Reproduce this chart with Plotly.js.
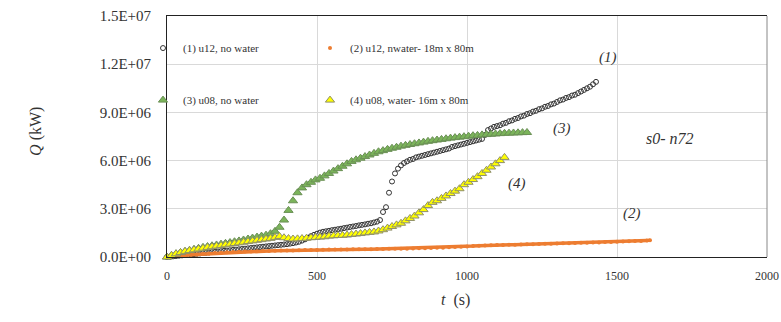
<!DOCTYPE html>
<html>
<head>
<meta charset="utf-8">
<script src="https://cdn.plot.ly/plotly-3.0.1.min.js"></script>
<style>
html,body{margin:0;padding:0;background:#fff;}
#chart{width:781px;height:322px;}
#chart text{font-family:'Liberation Serif' !important;}
</style>
</head>
<body>
<div id="chart"></div>
<script>
// Heat release rate Q in units of 1E+06 kW, time t in s
const seriesNames = ['(1) u12, no water', '(2) u12, nwater- 18m x 80m', '(3) u08, no water', '(4) u08, water- 16m x 80m'];

const t1 = [0,10,20,30,40,50,60,70,80,90,100,110,120,130,140,150,160,170,180,190,200,210,220,230,240,250,260,270,280,290,300,310,320,330,340,350,360,370,380,390,400,410,420,430,440,450,460,470,480,490,500,510,520,530,540,550,560,570,580,590,600,610,620,630,640,650,660,670,680,690,700,710,720,730,740,750,760,770,780,790,800,810,820,830,840,850,860,870,880,890,900,910,920,930,940,950,960,970,980,990,1000,1010,1020,1030,1040,1050,1060,1070,1080,1090,1100,1110,1120,1130,1140,1150,1160,1170,1180,1190,1200,1210,1220,1230,1240,1250,1260,1270,1280,1290,1300,1310,1320,1330,1340,1350,1360,1370,1380,1390,1400,1410,1420,1430];
const q1 = [0,0.02,0.04,0.06,0.08,0.1,0.12,0.14,0.16,0.18,0.2,0.22,0.24,0.26,0.28,0.3,0.32,0.34,0.36,0.38,0.4,0.42,0.44,0.46,0.48,0.5,0.52,0.54,0.56,0.58,0.6,0.62,0.64,0.66,0.68,0.7,0.72,0.74,0.76,0.78,0.8,0.83,0.86,0.9,0.95,1.02,1.1,1.2,1.3,1.38,1.45,1.52,1.57,1.6,1.63,1.67,1.7,1.73,1.76,1.8,1.83,1.87,1.9,1.93,1.97,2.0,2.03,2.07,2.1,2.15,2.2,2.3,2.8,3.1,4.0,4.7,5.2,5.5,5.7,5.85,5.95,6.05,6.1,6.2,6.25,6.3,6.35,6.4,6.45,6.5,6.55,6.6,6.65,6.7,6.75,6.85,6.9,6.95,7.0,7.05,7.1,7.15,7.2,7.25,7.3,7.35,7.6,7.9,8.0,8.1,8.15,8.2,8.3,8.35,8.45,8.5,8.6,8.65,8.75,8.8,8.9,8.95,9.05,9.1,9.2,9.25,9.35,9.4,9.5,9.55,9.65,9.75,9.8,9.9,9.95,10.05,10.1,10.2,10.3,10.4,10.5,10.6,10.75,10.9];

const t2 = [0,20,40,60,80,100,120,140,160,180,200,220,240,260,280,300,320,340,360,380,400,420,440,460,480,500,520,540,560,580,600,620,640,660,680,700,720,740,760,780,800,820,840,860,880,900,920,940,960,980,1000,1020,1040,1060,1080,1100,1120,1140,1160,1180,1200,1220,1240,1260,1280,1300,1320,1340,1360,1380,1400,1420,1440,1460,1480,1500,1520,1540,1560,1580,1600,1610];
const q2 = [0,0.05,0.08,0.11,0.14,0.16,0.19,0.22,0.25,0.27,0.29,0.31,0.32,0.34,0.35,0.36,0.37,0.38,0.39,0.4,0.41,0.41,0.42,0.43,0.44,0.44,0.45,0.46,0.46,0.47,0.47,0.48,0.48,0.49,0.49,0.5,0.5,0.51,0.51,0.52,0.52,0.53,0.54,0.55,0.56,0.57,0.58,0.6,0.62,0.64,0.66,0.68,0.7,0.72,0.73,0.74,0.75,0.76,0.77,0.78,0.79,0.8,0.81,0.82,0.83,0.84,0.85,0.86,0.87,0.88,0.89,0.9,0.91,0.93,0.94,0.95,0.97,0.98,0.99,1.0,1.02,1.05];

const t3 = [0,15,30,45,60,75,90,105,120,135,150,165,180,195,210,225,240,255,270,285,300,315,330,345,360,375,390,405,420,435,450,465,480,495,510,525,540,555,570,585,600,615,630,645,660,675,690,705,720,735,750,765,780,795,810,825,840,855,870,885,900,915,930,945,960,975,990,1005,1020,1035,1050,1065,1080,1095,1110,1125,1140,1155,1170,1185,1200];
const q3 = [0,0.1,0.2,0.28,0.35,0.42,0.48,0.54,0.6,0.65,0.7,0.75,0.8,0.85,0.9,0.95,1.0,1.06,1.12,1.18,1.24,1.3,1.36,1.45,1.6,1.85,2.3,2.9,3.5,4.0,4.3,4.5,4.65,4.8,4.9,5.05,5.2,5.35,5.5,5.65,5.8,5.95,6.05,6.15,6.25,6.35,6.45,6.55,6.62,6.7,6.77,6.83,6.9,6.95,7.0,7.05,7.1,7.15,7.2,7.24,7.28,7.32,7.36,7.4,7.43,7.46,7.49,7.52,7.55,7.57,7.6,7.62,7.64,7.66,7.68,7.7,7.71,7.72,7.73,7.74,7.75];

const t4 = [0,15,30,45,60,75,90,105,120,135,150,165,180,195,210,225,240,255,270,285,300,315,330,345,360,375,390,405,420,435,450,465,480,495,510,525,540,555,570,585,600,615,630,645,660,675,690,705,720,735,750,765,780,795,810,825,840,855,870,885,900,915,930,945,960,975,990,1005,1020,1035,1050,1065,1080,1095,1110,1125];
const q4 = [0,0.1,0.2,0.28,0.35,0.4,0.45,0.5,0.55,0.6,0.64,0.68,0.72,0.76,0.8,0.84,0.88,0.92,0.96,1.0,1.04,1.08,1.12,1.16,1.22,1.28,1.2,1.15,1.12,1.13,1.15,1.17,1.2,1.22,1.24,1.26,1.3,1.32,1.34,1.35,1.37,1.4,1.43,1.46,1.5,1.53,1.56,1.62,1.7,1.8,1.9,2.0,2.1,2.25,2.4,2.55,2.75,2.95,3.2,3.4,3.5,3.65,3.8,3.95,4.1,4.25,4.5,4.65,4.82,5.0,5.2,5.4,5.6,5.8,6.0,6.2];

const xTickVals = [0, 500, 1000, 1500, 2000];
const xTickText = ['0', '500', '1000', '1500', '2000'];
const yTickVals = [0, 3, 6, 9, 12, 15];
const yTickText = ['0.0E+00', '3.0E+06', '6.0E+06', '9.0E+06', '1.2E+07', '1.5E+07'];

const curveLabels = ['(1)', '(2)', '(3)', '(4)'];
const curveLabelX = [1470, 1550, 1317, 1167];
const curveLabelY = [12.4, 2.7, 8.0, 4.6];
const caseLabel = 's0- n72';

const SERIF = 'Liberation Serif';

const traces = [
  {x: t1, y: q1, name: seriesNames[0], type: 'scatter', mode: 'markers', legend: 'legend', cliponaxis: false,
   marker: {symbol: 'circle-open', size: 5, color: '#333333', line: {width: 1, color: '#333333'}}},
  {x: t2, y: q2, name: seriesNames[1], type: 'scatter', mode: 'lines', showlegend: false, cliponaxis: false,
   line: {color: '#ED7D31', width: 3.5}, hoverinfo: 'skip'},
  {x: t2, y: q2, name: seriesNames[1], type: 'scatter', mode: 'markers', legend: 'legend', cliponaxis: false,
   marker: {symbol: 'circle', size: 4, color: '#ED7D31'}},
  {x: t3, y: q3, name: seriesNames[2], type: 'scatter', mode: 'markers', legend: 'legend2', cliponaxis: false,
   marker: {symbol: 'triangle-up', size: 8, color: '#7bb45a', line: {width: 1, color: '#6a8f55'}}},
  {x: t4, y: q4, name: seriesNames[3], type: 'scatter', mode: 'markers', legend: 'legend2', cliponaxis: false,
   marker: {symbol: 'triangle-up', size: 8, color: '#FFFF00', line: {width: 1, color: '#8f8f6a'}}}
];

const annotations = curveLabels.map((s, i) => ({
  x: curveLabelX[i], y: curveLabelY[i], xref: 'x', yref: 'y', text: '<i>' + s + '</i>',
  showarrow: false, font: {family: SERIF, size: 15, color: '#333333'}
}));
annotations.push({x: 1677, y: 7.4, xref: 'x', yref: 'y', text: '<i>' + caseLabel + '</i>', showarrow: false,
  font: {family: SERIF, size: 16, color: '#333333'}});
annotations.push({x: -0.238, y: 0.52, xref: 'paper', yref: 'paper', text: '<i>Q</i> (kW)', textangle: -90,
  showarrow: false, font: {family: SERIF, size: 16, color: '#333333'}});
annotations.push({x: 0.48, y: -0.224, xref: 'paper', yref: 'paper', text: '<i>t</i>  (s)',
  showarrow: false, font: {family: SERIF, size: 16, color: '#333333'}});

const legendCommon = {
  orientation: 'h', xanchor: 'left', yanchor: 'middle', bgcolor: 'rgba(0,0,0,0)', borderwidth: 0,
  entrywidth: 122, entrywidthmode: 'pixels', font: {family: SERIF, size: 11, color: '#333333'}
};

const layout = {
  width: 781, height: 322,
  margin: {l: 167, r: 14, t: 16, b: 65},
  paper_bgcolor: '#ffffff', plot_bgcolor: '#ffffff',
  font: {family: SERIF},
  showlegend: true,
  legend: Object.assign({}, legendCommon, {x: -0.04, y: 0.867}),
  legend2: Object.assign({}, legendCommon, {x: -0.04, y: 0.651}),
  xaxis: {
    range: [0, 2000], tickvals: xTickVals, ticktext: xTickText, showgrid: true, gridcolor: '#d9d9d9',
    zeroline: false, showline: true, linecolor: '#222222', linewidth: 1, mirror: true, ticks: '',
    ticklabelstandoff: 8, tickfont: {family: SERIF, size: 12, color: '#333333'}, fixedrange: true
  },
  yaxis: {
    range: [0, 15], tickvals: yTickVals, ticktext: yTickText, showgrid: true, gridcolor: '#d9d9d9',
    zeroline: false, showline: true, linecolor: '#222222', linewidth: 1, ticks: '',
    ticklabelstandoff: 12, tickfont: {family: SERIF, size: 15, color: '#333333'}, fixedrange: true
  },
  shapes: [{type: 'line', xref: 'paper', yref: 'paper', x0: 1, x1: 1, y0: 0, y1: 1, line: {color: '#888888', width: 1}}],
  annotations: annotations
};

Plotly.newPlot('chart', traces, layout, {displayModeBar: false, staticPlot: true});
</script>
</body>
</html>
